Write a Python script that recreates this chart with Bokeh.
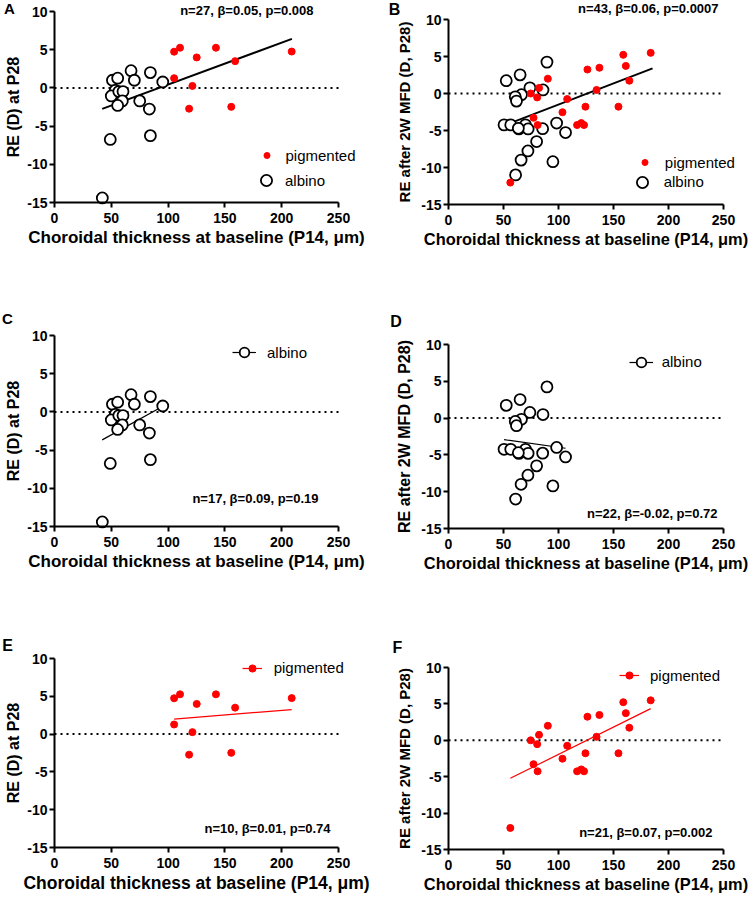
from bokeh.plotting import figure
from bokeh.models import Range1d, FixedTicker, Label, Legend, LegendItem, LinearAxis
from bokeh.layouts import row, column
from bokeh.embed import file_html
from bokeh.resources import INLINE

# ---------------- data ----------------
X_TICKS = [0, 50, 100, 150, 200, 250]
X_TICK_LABELS = ["0", "50", "100", "150", "200", "250"]
Y_TICKS = [-15, -10, -5, 0, 5, 10]
Y_TICK_LABELS = ["-15", "-10", "-5", "0", "5", "10"]
ZERO_LINE = 0

XLABEL = "Choroidal thickness at baseline (P14, μm)"
YLABEL_P28 = "RE (D) at P28"
YLABEL_MFD = "RE after 2W MFD (D, P28)"

# RE at P28 vs choroidal thickness (albino, n=17)
albino_p28_x = [49.1, 42.1, 84.4, 83.5, 67.4, 84.4, 70.3, 95.3, 51.0, 55.6, 53.5, 50.0, 56.6, 60.3, 59.7, 55.6, 75.0]
albino_p28_y = [-6.75, -14.4, -6.25, -2.77, 2.25, 2.0, 1.0, 0.77, 1.0, 1.27, -0.32, -1.05, -0.48, -0.48, -1.7, -2.3, -1.7]
# RE at P28 (pigmented, n=10)
pig_p28_x = [105.3, 110.5, 125.2, 142.1, 159.0, 208.8, 105.3, 121.4, 118.5, 155.6]
pig_p28_y = [4.74, 5.26, 3.99, 5.26, 3.5, 4.76, 1.27, 0.26, -2.72, -2.48]

# RE after 2W MFD (albino, n=22)
albino_mfd_x = [52.5, 65.1, 89.5, 74.0, 85.9, 66.3, 60.7, 61.8, 50.5, 56.6, 64.0, 70.0, 72.4, 85.6,
                98.3, 106.4, 80.1, 72.2, 66.0, 94.9, 61.0, 63.5]
albino_mfd_y = [1.73, 2.52, 4.24, 0.77, 0.48, -0.16, -0.45, -1.03, -4.24, -4.24, -4.79, -4.24, -4.79, -4.76,
                -3.99, -5.28, -6.49, -7.76, -9.0, -9.21, -11.0, -4.7]
# RE after 2W MFD (pigmented, n=21)
pig_mfd_x = [183.8, 158.9, 161.2, 164.4, 137.2, 126.3, 134.6, 154.5, 124.5, 107.9, 103.6, 116.9, 120.7,
             123.2, 90.3, 82.3, 80.6, 74.7, 77.3, 81.0, 56.2]
pig_mfd_y = [5.49, 5.23, 3.73, 1.73, 3.48, 3.24, 0.48, -1.78, -1.78, -0.75, -2.53, -4.26, -4.0,
             -4.26, 2.0, 0.75, -0.53, 0.0, -3.28, -4.26, -12.04]

# regression lines (end points)
fit_all_p28_x = [42.0, 209.0]
fit_all_p28_y = [-2.74, 6.42]
fit_all_mfd_x = [50.5, 185.5]
fit_all_mfd_y = [-4.32, 3.39]
fit_alb_p28_x = [42.0, 95.0]
fit_alb_p28_y = [-3.66, 0.70]
fit_alb_mfd_x = [50.5, 106.4]
fit_alb_mfd_y = [-2.93, -4.10]
fit_pig_p28_x = [105.3, 208.8]
fit_pig_p28_y = [1.98, 3.25]
fit_pig_mfd_x = [56.2, 183.8]
fit_pig_mfd_y = [-5.22, 4.35]

STATS_A = "n=27, β=0.05, p=0.008"
STATS_B = "n=43, β=0.06, p=0.0007"
STATS_C = "n=17, β=0.09, p=0.19"
STATS_D = "n=22, β=-0.02, p=0.72"
STATS_E = "n=10, β=0.01, p=0.74"
STATS_F = "n=21, β=0.07, p=0.002"

FONT = "Liberation Sans"
RED = "#ff0000"
X_MIN, X_MAX = X_TICKS[0], X_TICKS[-1]
Y_MIN, Y_MAX = Y_TICKS[0], Y_TICKS[-1]


def base_figure(fig_w, fig_h, box, ylabel, ylabel_size, xlabel_size, ylabel_standoff):
    """box = pixel edges (left, right, top, bottom) of the axes box inside the figure."""
    l, r, t, b = box
    sx = (r - l) / (X_MAX - X_MIN)
    sy = (b - t) / (Y_MAX - Y_MIN)
    p = figure(width=fig_w, height=fig_h,
               x_range=Range1d(X_MIN - l / sx, X_MAX + (fig_w - r) / sx),
               y_range=Range1d(Y_MIN - (fig_h - b) / sy, Y_MAX + t / sy),
               x_axis_location=None, y_axis_location=None,
               min_border=0, min_border_left=0, min_border_right=0,
               min_border_top=0, min_border_bottom=0,
               output_backend="svg", toolbar_location=None, title=None)
    p.outline_line_color = None
    p.grid.visible = False
    p.background_fill_color = "white"
    p.border_fill_color = "white"

    xax = LinearAxis(fixed_location=Y_MIN, bounds=(X_MIN, X_MAX), ticker=FixedTicker(ticks=X_TICKS),
                     major_label_overrides=dict(zip(X_TICKS, X_TICK_LABELS)))
    yax = LinearAxis(fixed_location=X_MIN, bounds=(Y_MIN, Y_MAX), ticker=FixedTicker(ticks=Y_TICKS),
                     major_label_overrides=dict(zip(Y_TICKS, Y_TICK_LABELS)))
    for ax in (xax, yax):
        ax.axis_line_width = 2
        ax.axis_line_color = "black"
        ax.major_tick_line_width = 2
        ax.major_tick_line_color = "black"
        ax.major_tick_in = 0
        ax.major_tick_out = 5
        ax.minor_tick_line_color = None
        ax.major_label_text_font = FONT
        ax.major_label_text_font_style = "bold"
        ax.major_label_text_font_size = "14px"
        ax.major_label_text_color = "black"
        ax.axis_label_text_font = FONT
        ax.axis_label_text_font_style = "bold"
        ax.axis_label_text_color = "black"
    xax.major_label_standoff = 5
    yax.major_label_standoff = 2
    xax.axis_label = XLABEL
    xax.axis_label_text_font_size = xlabel_size
    xax.axis_label_standoff = 2
    yax.axis_label = ylabel
    yax.axis_label_text_font_size = ylabel_size
    yax.axis_label_standoff = ylabel_standoff
    p.add_layout(xax, "below")
    p.add_layout(yax, "left")

    # dotted reference line at zero across the axis range
    p.segment(x0=[X_MIN], y0=[ZERO_LINE], x1=[X_MAX], y1=[ZERO_LINE],
              line_color="black", line_width=2, line_dash="2 4")
    return p


def add_texts(p, letter, lx, ly, letter_size, stats, sx, sy):
    p.add_layout(Label(x=lx, y=ly, text=letter, text_font=FONT, text_font_style="bold",
                       text_font_size=letter_size, text_align="center", text_baseline="middle",
                       text_color="black"))
    p.add_layout(Label(x=sx, y=sy, text=stats, text_font=FONT, text_font_style="bold",
                       text_font_size="13px", text_align="right", text_baseline="middle",
                       text_color="black"))


def add_legend(p, fig_h, label, renderers, w, h, cx, cy, tx):
    """cx, cy: glyph centre (px from figure top-left); tx: text start (px)."""
    lx = cx - w / 2
    ly = fig_h - cy - h / 2
    standoff = int(round(tx - (lx + w)))
    leg = Legend(items=[LegendItem(label=label, renderers=renderers)],
                 location=(lx, ly), glyph_width=w, glyph_height=h, label_height=h,
                 label_standoff=standoff, padding=0, margin=0, spacing=0,
                 border_line_color=None, background_fill_alpha=0,
                 label_text_font=FONT, label_text_font_size="15px", label_text_color="black")
    p.add_layout(leg)


def albino(p, xs, ys):
    return p.scatter(xs, ys, marker="circle", size=11, fill_color="white",
                     line_color="black", line_width=1.8)


def pigmented(p, xs, ys):
    return p.scatter(xs, ys, marker="circle", size=7, fill_color=RED, line_color=RED)


W = 375
H1, H2, H3 = 300, 300, 298

# ---------------- A ----------------
pA = base_figure(W, H1, (54, 338, 11, 202), YLABEL_P28, "16px", "17px", 2)
pA.line(fit_all_p28_x, fit_all_p28_y, line_color="black", line_width=2)
rA_alb = albino(pA, albino_p28_x, albino_p28_y)
rA_pig = pigmented(pA, pig_p28_x, pig_p28_y)
add_texts(pA, "A", -39.6, 10.39, "15px", STATS_A, 228, 10.13)
add_legend(pA, H1, "pigmented", [rA_pig], 15, 18, 266, 155, 285)
add_legend(pA, H1, "albino", [rA_alb], 28, 28, 266, 180, 285)

# ---------------- B ----------------
pB = base_figure(W, H1, (73, 348, 19, 204), YLABEL_MFD, "15px", "16.4px", 5)
pB.line(fit_all_mfd_x, fit_all_mfd_y, line_color="black", line_width=2)
rB_alb = albino(pB, albino_mfd_x, albino_mfd_y)
rB_pig = pigmented(pB, pig_mfd_x, pig_mfd_y)
add_texts(pB, "B", -49.1, 11.35, "16px", STATS_B, 245.5, 11.42)
add_legend(pB, H1, "pigmented", [rB_pig], 15, 18, 269.3, 162, 290)
add_legend(pB, H1, "albino", [rB_alb], 28, 28, 266.7, 181.7, 288.3)

# ---------------- C ----------------
pC = base_figure(W, H2, (54, 338, 35, 226), YLABEL_P28, "16px", "17px", 2)
rC_line = pC.line(fit_alb_p28_x, fit_alb_p28_y, line_color="black", line_width=1.2)
rC_alb = albino(pC, albino_p28_x, albino_p28_y)
add_texts(pC, "C", -41.4, 12.22, "15px", STATS_C, 232.4, -11.34)
add_legend(pC, H2, "albino", [rC_line, rC_alb], 24, 28, 244, 52, 266.7)

# ---------------- D ----------------
pD = base_figure(W, H2, (73, 348, 44, 228), YLABEL_MFD, "16px", "16.4px", 5)
rD_line = pD.line(fit_alb_mfd_x, fit_alb_mfd_y, line_color="black", line_width=1.2)
rD_alb = albino(pD, albino_mfd_x, albino_mfd_y)
add_texts(pD, "D", -47.7, 13.1, "16px", STATS_D, 244.5, -12.96)
add_legend(pD, H2, "albino", [rD_line, rD_alb], 24, 28, 265.7, 61.7, 286.7)

# ---------------- E ----------------
pE = base_figure(W, H3, (54, 338, 58, 247), YLABEL_P28, "16px", "17.5px", 2)
rE_line = pE.line(fit_pig_p28_x, fit_pig_p28_y, line_color=RED, line_width=1.2)
rE_pig = pigmented(pE, pig_p28_x, pig_p28_y)
add_texts(pE, "E", -41.4, 11.72, "16px", STATS_E, 243, -12.49)
add_legend(pE, H3, "pigmented", [rE_line, rE_pig], 20, 18, 251.7, 67.7, 273.3)

# ---------------- F ----------------
pF = base_figure(W, H3, (73, 348, 67, 249), YLABEL_MFD, "15px", "16.4px", 5)
rF_line = pF.line(fit_pig_mfd_x, fit_pig_mfd_y, line_color=RED, line_width=1.2)
rF_pig = pigmented(pF, pig_mfd_x, pig_mfd_y)
add_texts(pF, "F", -46.4, 12.68, "16px", STATS_F, 240, -12.66)
add_legend(pF, H3, "pigmented", [rF_line, rF_pig], 20, 18, 254, 75, 275)

layout = column(row(pA, pB), row(pC, pD), row(pE, pF))

open("out.html", "w").write(file_html(layout, INLINE))
